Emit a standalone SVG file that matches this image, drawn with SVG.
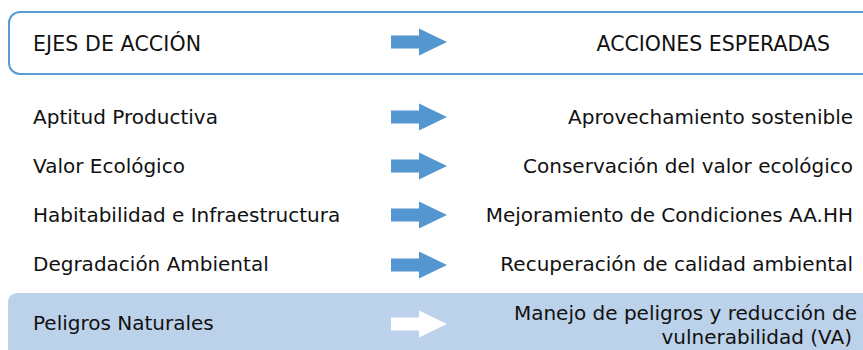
<svg xmlns="http://www.w3.org/2000/svg" width="863" height="350" viewBox="0 0 863 350">
<style>
text{font-family:"DejaVu Sans","Verdana",sans-serif;font-size:20px;fill:#111}
.h{font-size:20.5px}
.r{text-anchor:end}
.arr{fill:#5496D0}
.warr{fill:#ffffff}
</style>
<defs>
<path id="ar" d="M0,-6.5 H28 V-13.5 L56,0 L28,13.5 V6.5 H0 Z"/>
</defs>
<rect x="0" y="0" width="863" height="350" fill="#fff"/>
<g id="header">
<rect x="9" y="12" width="870" height="62" rx="11" fill="#fff" stroke="#5B9BD5" stroke-width="2"/>
<text x="33" y="51" class="h" textLength="168">EJES DE ACCIÓN</text>
<text x="830" y="51" class="h r">ACCIONES ESPERADAS</text>
</g>
<g id="band">
<path d="M8,350 V303 Q8,293 18,293 H863 V350 Z" fill="#BCD1EA"/>
</g>
<g id="connectors">
<use href="#ar" x="391" y="42" class="arr"/>
<use href="#ar" x="391" y="117" class="arr"/>
<use href="#ar" x="391" y="166" class="arr"/>
<use href="#ar" x="391" y="215" class="arr"/>
<use href="#ar" x="391" y="265" class="arr"/>
<use href="#ar" x="391" y="324" class="warr"/>
</g>
<g id="n1"><text x="33" y="124">Aptitud Productiva</text><text x="853" y="124" class="r">Aprovechamiento sostenible</text></g>
<g id="n2"><text x="33" y="173">Valor Ecológico</text><text x="853" y="173" class="r">Conservación del valor ecológico</text></g>
<g id="n3"><text x="33" y="222">Habitabilidad e Infraestructura</text><text x="853" y="222" class="r">Mejoramiento de Condiciones AA.HH</text></g>
<g id="n4"><text x="33" y="271">Degradación Ambiental</text><text x="853" y="271" class="r">Recuperación de calidad ambiental</text></g>
<g id="n5"><text x="33" y="330">Peligros Naturales</text><text x="857" y="320" class="r">Manejo de peligros y reducción de</text><text x="852" y="344" class="r">vulnerabilidad (VA)</text></g>
</svg>
